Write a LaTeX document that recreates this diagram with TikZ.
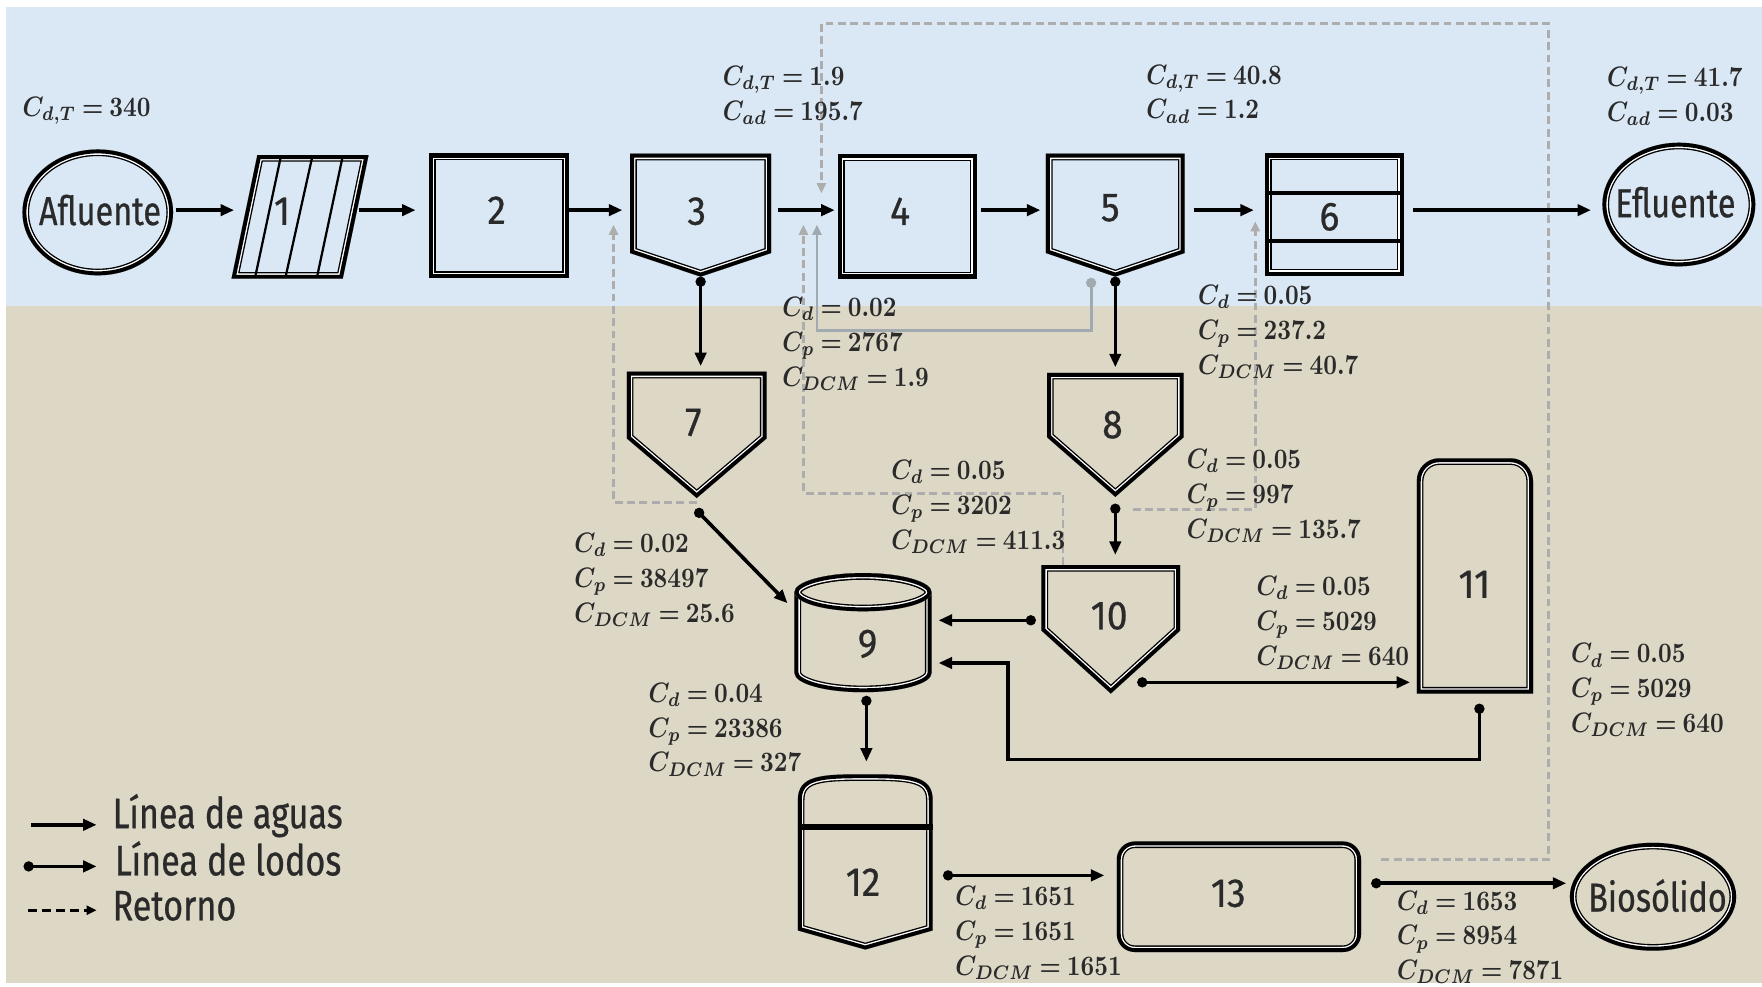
\documentclass[tikz,border=0pt]{standalone}
\usepackage{graphicx}
\usepackage{fontspec}
\usetikzlibrary{arrows.meta,shapes.geometric,calc}
\newfontfamily\cf[FakeStretch=0.8,FakeBold=0.6]{Fira Sans}
\newfontfamily\cfn[FakeStretch=0.92,FakeBold=0.6]{Fira Sans}
\definecolor{skyb}{HTML}{DAE8F5}
\definecolor{sand}{HTML}{DDD8C6}
\definecolor{retgray}{HTML}{ADADAD}
\definecolor{solgray}{HTML}{A2AAB1}
\definecolor{ink}{HTML}{2A2A2A}
\newcommand\dblshape[1]{%
  \begin{scope}
    \clip #1;
    \draw[line width=11.8pt] #1;
    \draw[white, line width=9.4pt] #1;
    \draw[line width=7pt] #1;
  \end{scope}}
\newcommand\mm[1]{\scalebox{2.12}[2.5]{\thickmuskip=4mu\boldmath$#1$}}
\begin{document}
\begin{tikzpicture}[x=1pt,y=-1pt,line join=miter,
  shp/.style={inner sep=0pt, draw=none},
  num/.style={font=\cfn\fontsize{36}{36}\selectfont, text=ink, inner sep=0pt},
  nam/.style={font=\cf\fontsize{36}{36}\selectfont, text=ink, inner sep=0pt},
  legf/.style={font=\cf\fontsize{38}{38}\selectfont, text=ink, inner sep=0pt, anchor=base west},
  lab/.style={font=\fontsize{10}{31}\selectfont, text=ink, align=left, anchor=north west, inner sep=0pt},
  water/.style={line width=3.2pt, -{Triangle[length=12pt,width=10pt]}},
  sludge/.style={line width=3.2pt, {Circle[length=9pt]}-{Triangle[length=12pt,width=10pt]}},
  ret/.style={retgray, line width=2.5pt, dash pattern=on 7pt off 4pt, -{Triangle[length=9pt,width=8pt]}},
  retsolid/.style={solgray, line width=2.5pt, {Circle[length=9pt]}-{Triangle[length=9pt,width=8pt]}},
]
% background
\useasboundingbox (0,0) rectangle (1568,878);
\fill[white] (0,0) rectangle (1568,878);
\fill[skyb] (5,6) rectangle (1568,272);
\fill[sand] (5,272) rectangle (1568,875);

% shape holders
\node[shp, ellipse, minimum width=134pt, minimum height=112pt] (afl) at (87,189) {};
\node[shp, minimum width=125pt, minimum height=110pt] (s1) at (267,193) {};
\node[shp, minimum width=124pt, minimum height=110pt] (s2) at (444,192) {};
\node[shp, minimum width=125pt, minimum height=109pt] (s3) at (623.5,191.5) {};
\node[shp, minimum width=123pt, minimum height=110pt] (s4) at (807.5,192.5) {};
\node[shp, minimum width=123pt, minimum height=109pt] (s5) at (992.5,191.5) {};
\node[shp, minimum width=123pt, minimum height=108pt] (s6) at (1187.5,191) {};
\node[shp, ellipse, minimum width=136pt, minimum height=110pt] (efl) at (1494,182) {};
\node[shp, minimum width=124pt, minimum height=112pt] (s7) at (620,387) {};
\node[shp, minimum width=121pt, minimum height=110pt] (s8) at (992.5,387) {};
\node[shp, minimum width=122pt, minimum height=107pt] (s9) at (768,562.5) {};
\node[shp, minimum width=123pt, minimum height=114pt] (s10) at (988.5,560) {};
\node[shp, minimum width=103pt, minimum height=209pt] (s11) at (1312.5,512.5) {};
\node[shp, minimum width=120pt, minimum height=155pt] (s12) at (770,767.5) {};
\node[shp, minimum width=217pt, minimum height=98pt] (s13) at (1102.5,798) {};
\node[shp, ellipse, minimum width=148pt, minimum height=96pt] (bio) at (1471,798) {};

% ports
\coordinate (wl) at (0,187);
\coordinate (p10l) at ([yshift=8pt]s10.west);
\coordinate (p10r) at ([shift={(23.5,-10)}]s10.south);
\coordinate (p11b) at ([xshift=4pt]s11.south);
\coordinate (p9r) at ([yshift=-27.5pt]s9.east);
\coordinate (k11) at (897,676);
\coordinate (p9b) at ([xshift=3pt]s9.south);
\coordinate (p12r) at ([yshift=-11.5pt]s12.east);
\coordinate (p13r) at ([yshift=12pt]s13.east);
\coordinate (rA0) at ([shift={(18,16)}]s13.north east);
\coordinate (rAc) at (1378,21);
\coordinate (tA) at (731,172);
\coordinate (rB0) at ([yshift=-4pt]s7.south);
\coordinate (tB) at (546,200);
\coordinate (rC0) at ([xshift=-42.5pt]s10.north);
\coordinate (tC) at (715,200);
\coordinate (rD0) at ([shift={(15.5,11)}]s8.south);
\coordinate (tD) at (1117,197);
\coordinate (rE0) at ([shift={(-21.5,1)}]s5.south);
\coordinate (tE) at (727,200);

% return lines
\draw[ret] (rA0) -| (rAc) -| (tA);
\draw[ret] (rB0) -| (tB);
\draw[ret] (rC0) -- ++(0,-64) -| (tC);
\draw[ret] (rD0) -| (tD);
\draw[retsolid] (rE0) -- ++(0,47) -| (tE);

% shapes
\dblshape{(afl.center) ellipse [x radius=67pt, y radius=56pt]}
\dblshape{(229,138) -- (328,138) -- (305,248) -- (206,248) -- cycle}
\draw[line width=2pt] (250,139) -- (227,247) (278,139) -- (254,247) (305,139) -- (282,247);
\dblshape{(s2.north west) rectangle (s2.south east)}
\dblshape{(s3.north west) -- (s3.north east) -- ([yshift=21pt]s3.south east) -- (s3.south) -- ([yshift=21pt]s3.south west) -- cycle}
\dblshape{(s4.north west) rectangle (s4.south east)}
\dblshape{(s5.north west) -- (s5.north east) -- ([yshift=21pt]s5.south east) -- (s5.south) -- ([yshift=21pt]s5.south west) -- cycle}
\dblshape{(s6.north west) rectangle (s6.south east)}
\draw[line width=3.5pt] ([yshift=-35pt]s6.north west) -- ([yshift=-35pt]s6.north east)
  ([yshift=-78pt]s6.north west) -- ([yshift=-78pt]s6.north east);
\dblshape{(efl.center) ellipse [x radius=68pt, y radius=55pt]}
\dblshape{(s7.north west) -- (s7.north east) -- ([yshift=53pt]s7.south east) -- (s7.south) -- ([yshift=53pt]s7.south west) -- cycle}
\dblshape{(s8.north west) -- (s8.north east) -- ([yshift=53pt]s8.south east) -- (s8.south) -- ([yshift=53pt]s8.south west) -- cycle}
\dblshape{(s10.north west) -- (s10.north east) -- ([yshift=56pt]s10.south east) -- (s10.south) -- ([yshift=56pt]s10.south west) -- cycle}
\dblshape{(707,527) -- (707,599) arc[start angle=180,end angle=360,x radius=61pt,y radius=17pt] -- (829,527) arc[start angle=0,end angle=180,x radius=61pt,y radius=17pt] -- cycle}
\dblshape{(768,527) ellipse [x radius=61pt, y radius=17pt]}
\dblshape{(s11.south west) -- ([yshift=-20pt]s11.north west) arc[start angle=180,end angle=90,radius=20pt] -- ([xshift=-20pt]s11.north east) arc[start angle=90,end angle=0,radius=20pt] -- (s11.south east) -- cycle}
\dblshape{(710,828) -- (710,712) .. controls (710,690) and (730,689) .. (770,689) .. controls (810,689) and (830,690) .. (830,712) -- (830,828) -- (770,845) -- cycle}
\draw[line width=5pt] ([yshift=-46pt]s12.north west) -- ([yshift=-46pt]s12.north east);
\dblshape{[rounded corners=16pt] (s13.north west) rectangle (s13.south east)}
\dblshape{(bio.center) ellipse [x radius=74pt, y radius=48pt]}

% water line
\draw[water, shorten <=2pt, shorten >=-4pt] (afl.east |- wl) -- (s1.west |- wl);
\draw[water, shorten <=-10.5pt, shorten >=12pt] (s1.east |- wl) -- (s2.west |- wl);
\draw[water, shorten >=7pt] (s2.east |- wl) -- (s3.west |- wl);
\draw[water, shorten <=6pt, shorten >=3pt] (s3.east |- wl) -- (s4.west |- wl);
\draw[water, shorten <=4pt, shorten >=5pt] (s4.east |- wl) -- (s5.west |- wl);
\draw[water, shorten <=8pt, shorten >=10pt] (s5.east |- wl) -- (s6.west |- wl);
\draw[water, shorten <=8pt, shorten >=10pt] (s6.east |- wl) -- (efl.west |- wl);

% sludge line
\draw[sludge, shorten >=5pt] (s3.south) -- (s3.south |- s7.north);
\draw[sludge, shorten >=5pt] (s5.south) -- (s5.south |- s8.north);
\draw[sludge] ([shift={(-1,10)}]s7.south) -- ([shift={(-6,28)}]s9.north west);
\draw[sludge, shorten <=6pt, shorten >=9pt] (s8.south) -- (s8.south |- s10.north);
\draw[sludge, shorten <=5pt, shorten >=6pt] (p10l) -- (p10l -| s9.east);
\draw[sludge, shorten >=6pt] (p10r) -- (p10r -| s11.west);
\draw[sludge, shorten <=9pt, shorten >=6pt] (p11b) |- (k11) |- (p9r);
\draw[sludge, shorten <=3pt, shorten >=12pt] (p9b) -- (p9b |- s12.north);
\draw[sludge, shorten <=9pt, shorten >=11pt] (p12r) -- (p12r -| s13.west);
\draw[sludge, shorten <=9pt, shorten >=3pt] (p13r) -- (p13r -| bio.west);

% unit texts
\node[nam] (tafl) at (89,187) {Afluente};
\node[nam] (tefl) at (1491,180) {Efluente};
\node[nam] (tbio) at (1475,797) {Biosólido};
\node[num] (t1) at (251,188) {1};
\node[num] (t2) at (442,187) {2};
\node[num] (t3) at (620,188) {3};
\node[num] (t4) at (801,188) {4};
\node[num] (t5) at (988,185) {5};
\node[num] (t6) at (1183,193) {6};
\node[num] (t7) at (617,376) {7};
\node[num] (t8) at (990,378) {8};
\node[num] (t9) at (772,573) {9};
\node[num] (t10) at (987,548) {10};
\node[num] (t11) at (1312,520) {11};
\node[num] (t12) at (768,785) {12};
\node[num] (t13) at (1093,795) {13};

% value labels
\node[lab] (c0) at (20,86.5) {\mm{C_{d,T} = 340}};
\node[lab] (c3) at (643,58.5) {\mm{C_{d,T} = 1.9}\\\mm{C_{ad} = 195.7}};
\node[lab] (c5) at (1020,57.5) {\mm{C_{d,T} = 40.8}\\\mm{C_{ad} = 1.2}};
\node[lab] (c6) at (1430,59.5) {\mm{C_{d,T} = 41.7}\\\mm{C_{ad} = 0.03}};
\node[lab] (c34) at (696,264.5) {\mm{C_d = 0.02}\\\mm{C_p = 2767}\\\mm{C_{DCM} = 1.9}};
\node[lab] (c56) at (1066,253.5) {\mm{C_d = 0.05}\\\mm{C_p = 237.2}\\\mm{C_{DCM} = 40.7}};
\node[lab] (c10) at (793,409.5) {\mm{C_d = 0.05}\\\mm{C_p = 3202}\\\mm{C_{DCM} = 411.3}};
\node[lab] (c8) at (1056,399.5) {\mm{C_d = 0.05}\\\mm{C_p = 997}\\\mm{C_{DCM} = 135.7}};
\node[lab] (c7) at (511,474.5) {\mm{C_d = 0.02}\\\mm{C_p = 38497}\\\mm{C_{DCM} = 25.6}};
\node[lab] (c1011) at (1118,512.5) {\mm{C_d = 0.05}\\\mm{C_p = 5029}\\\mm{C_{DCM} = 640}};
\node[lab] (c11) at (1398,572.5) {\mm{C_d = 0.05}\\\mm{C_p = 5029}\\\mm{C_{DCM} = 640}};
\node[lab] (c9) at (577,607.5) {\mm{C_d = 0.04}\\\mm{C_p = 23386}\\\mm{C_{DCM} = 327}};
\node[lab] (c12) at (850,788.5) {\mm{C_d = 1651}\\\mm{C_p = 1651}\\\mm{C_{DCM} = 1651}};
\node[lab] (c13) at (1243,792.5) {\mm{C_d = 1653}\\\mm{C_p = 8954}\\\mm{C_{DCM} = 7871}};

% legend
\node[legf] (lg1t) at (100,737) {Línea de aguas};
\node[legf] (lg2t) at (102,779) {Línea de lodos};
\node[legf] (lg3t) at (100,819) {Retorno};
\coordinate (lg1) at (28,734);
\coordinate (lg2) at (21,771);
\coordinate (lg3) at (25,810);
\draw[water, shorten >=14pt] (lg1) -- (lg1 -| lg1t.west);
\draw[sludge, shorten >=16pt] (lg2) -- (lg2 -| lg2t.west);
\draw[line width=2.8pt, dash pattern=on 8pt off 4.5pt, -{Triangle[length=9pt,width=8pt]}, shorten >=14pt] (lg3) -- (lg3 -| lg3t.west);
\end{tikzpicture}
\end{document}
